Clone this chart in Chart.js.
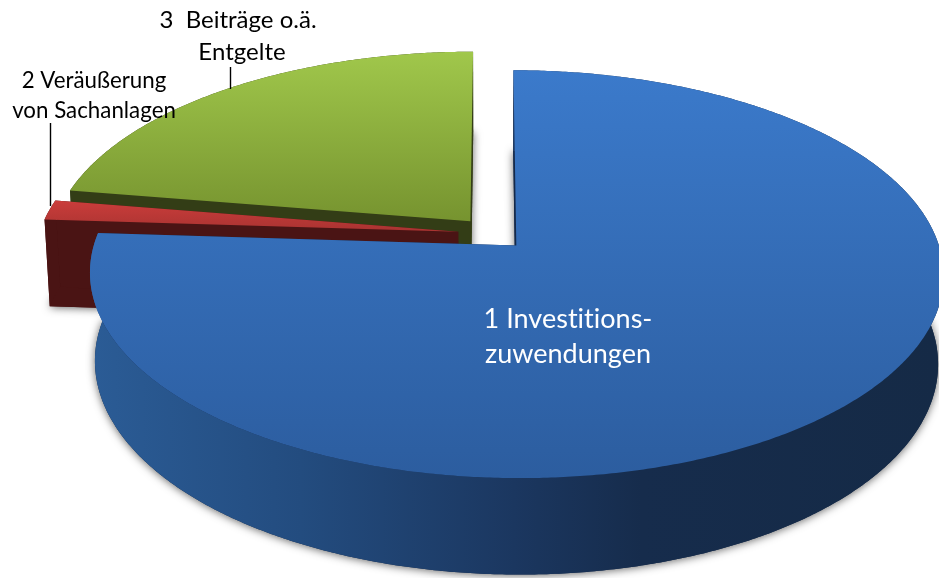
<!DOCTYPE html>
<html lang="de">
<head>
<meta charset="utf-8">
<style>html,body{margin:0;padding:0;background:#fff}canvas{display:block}</style>
<script src="https://cdn.jsdelivr.net/npm/chart.js@4/dist/chart.umd.min.js"></script>
</head>
<body>
<canvas id="c" width="939" height="578"></canvas>
<script>
const categories = ["1 Investitionszuwendungen", "2 Veräußerung von Sachanlagen", "3 Beiträge o.ä. Entgelte"];
const values = [76, 1.6, 22.4];
const labelLines = [["1 Investitions-", "zuwendungen"], ["2 Veräußerung", "von Sachanlagen"], ["3  Beiträge o.ä.", "Entgelte"]];

const topStops = [["#3b7acb", "#2c5d9f", 70, 478], ["#cb3d3b", "#a93331", 200, 232], ["#a0c74b", "#76932f", 53, 222]];
const cutColors = ["#14294a", "#4a1414", "#333d16"];
const labelStyle = [
  {color:"#fff", size:27, pos:[[568,328],[568,363]]},
  {color:"#000", size:22.3, pos:[[94,88],[94,118]]},
  {color:"#000", size:24, pos:[[238,28],[242,60]]}
];
const leaders = [[[50.5,123],[50.5,206]], [[230.5,67],[230.5,89]]];

// perspective projection of the pie plane onto the picture
const P = {cx:492.5, cy:233.5, a:419, b:196.5, p:-0.14, d:89.3, q:0.021, xh:0.009};
function proj(u, v, h) {
  const w = 1 + P.p * v + P.q * h;
  return [P.cx + P.a * (1 + P.xh * h) * u / w, P.cy + (P.b * v + P.d * h) / w];
}

function pieGeometry(el) {
  const off = (el.options.offset || 0) / 4;
  const r = el.outerRadius + off;
  const mid = (el.startAngle + el.endAngle) / 2;
  return {eu: Math.cos(mid) * off / r, ev: Math.sin(mid) * off / r, s: el.startAngle, t: el.endAngle};
}
function arcPts(g, h, from, to) {
  const n = Math.max(2, Math.ceil(Math.abs(to - from) * 120));
  const out = [];
  for (let i = 0; i <= n; i++) {
    const x = from + (to - from) * i / n;
    out.push(proj(g.eu + Math.cos(x), g.ev + Math.sin(x), h));
  }
  return out;
}
function fillPoly(ctx, pts, fill) {
  ctx.beginPath();
  pts.forEach((pt, i) => i ? ctx.lineTo(pt[0], pt[1]) : ctx.moveTo(pt[0], pt[1]));
  ctx.closePath();
  ctx.fillStyle = fill;
  ctx.fill();
}

const projectedPie = {
  id: "projectedPie",
  beforeDatasetsDraw(chart) {
    const ctx = chart.ctx;
    const arcs = chart.getDatasetMeta(0).data;
    const wallGrad = ctx.createLinearGradient(88, 0, 939, 0);
    wallGrad.addColorStop(0, "#2b5c96");
    wallGrad.addColorStop(0.25, "#234c7f");
    wallGrad.addColorStop(0.5, "#1b3760");
    wallGrad.addColorStop(0.65, "#162c4c");
    wallGrad.addColorStop(1, "#152a46");
    // far slices first, the large front slice last
    [2, 1, 0].forEach(i => {
      const g = pieGeometry(arcs[i]);
      const apexT = proj(g.eu, g.ev, 0), apexB = proj(g.eu, g.ev, 1);
      const outerT = arcPts(g, 0, g.s, g.t), outerB = arcPts(g, 1, g.s, g.t);
      // base with soft shadow
      ctx.save();
      ctx.shadowColor = "rgba(0,0,0,0.6)";
      ctx.shadowBlur = 8;
      ctx.shadowOffsetY = 1;
      fillPoly(ctx, [apexB, ...outerB], cutColors[i]);
      ctx.restore();
      // cut faces
      fillPoly(ctx, [apexT, outerT[0], outerB[0], apexB], cutColors[i]);
      fillPoly(ctx, [apexT, outerT[outerT.length - 1], outerB[outerB.length - 1], apexB], cutColors[i]);
      // outer wall
      fillPoly(ctx, [...outerT, ...outerB.slice().reverse()], i === 0 ? wallGrad : cutColors[i]);
      // top face
      const st = topStops[i];
      const grad = ctx.createLinearGradient(0, st[2], 0, st[3]);
      grad.addColorStop(0, st[0]);
      grad.addColorStop(1, st[1]);
      fillPoly(ctx, [apexT, ...outerT], grad);
    });
    // leader lines
    ctx.strokeStyle = "#000";
    ctx.lineWidth = 1.4;
    leaders.forEach(l => {
      ctx.beginPath();
      ctx.moveTo(l[0][0], l[0][1]);
      ctx.lineTo(l[1][0], l[1][1]);
      ctx.stroke();
    });
    // labels
    ctx.textAlign = "center";
    ctx.textBaseline = "alphabetic";
    ctx.letterSpacing = "0.01px";
    labelLines.forEach((lines, i) => {
      const s = labelStyle[i];
      ctx.fillStyle = s.color;
      ctx.font = s.size + "px Lato, 'Open Sans', sans-serif";
      lines.forEach((t, k) => ctx.fillText(t, s.pos[k][0], s.pos[k][1]));
    });
    return false;
  }
};

new Chart(document.getElementById("c"), {
  type: "pie",
  data: {labels: categories, datasets: [{data: values, offset: 88, borderWidth: 0, backgroundColor: ["#3b7acb", "#cb3d3b", "#a0c74b"]}]},
  options: {
    responsive: false,
    animation: false,
    layout: {padding: 0},
    plugins: {legend: {display: false}, tooltip: {enabled: false}}
  },
  plugins: [projectedPie]
});
</script>
</body>
</html>
